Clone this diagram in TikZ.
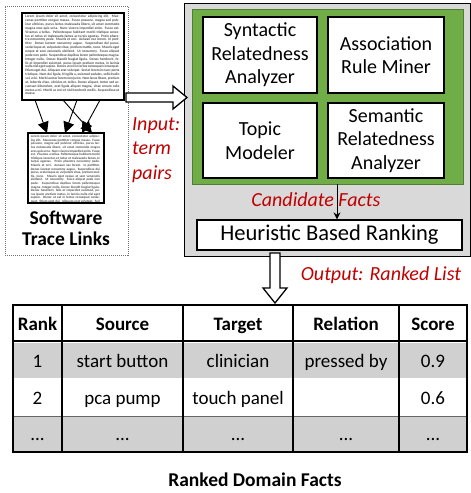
\documentclass[tikz,border=0pt]{standalone}
\usepackage{fontspec}
\setmainfont{Carlito}
\usetikzlibrary{arrows.meta,calc}
\definecolor{myred}{HTML}{C00000}
\definecolor{mygreen}{HTML}{70AD47}
\definecolor{mygreendark}{HTML}{507E32}
\definecolor{mygray}{HTML}{D9D9D9}
\definecolor{tablegray}{HTML}{D0D0D0}
\newcommand{\loremone}{Lorem ipsum dolor sit amet, consectetur adipiscing elit. Maecenas porttitor congue massa. Fusce posuere, magna sed pulvinar ultricies, purus lectus malesuada libero, sit amet commodo magna eros quis urna. Nunc viverra imperdiet enim. Fusce est. Vivamus a tellus. Pellentesque habitant morbi tristique senectus et netus et malesuada fames ac turpis egestas. Proin pharetra nonummy pede. Mauris et orci. Aenean nec lorem. In porttitor. Donec laoreet nonummy augue. Suspendisse dui purus, scelerisque at, vulputate vitae, pretium mattis, nunc. Mauris eget neque at sem venenatis eleifend. Ut nonummy.}
\newcommand{\loremtwo}{Fusce aliquet pede non pede. Suspendisse dapibus lorem pellentesque magna. Integer nulla. Donec blandit feugiat ligula. Donec hendrerit, felis et imperdiet euismod, purus ipsum pretium metus, in lacinia nulla nisl eget sapien. Donec ut est in lectus consequat consequat. Etiam eget dui. Aliquam erat volutpat. Sed at lorem in nunc porta tristique.}
\newcommand{\loremthree}{Nam dui ligula, fringilla a, euismod sodales, sollicitudin vel, wisi. Morbi auctor lorem non justo. Nam lacus libero, pretium at, lobortis vitae, ultricies et, tellus. Donec aliquet, tortor sed accumsan bibendum, erat ligula aliquet magna, vitae ornare odio metus a mi. Morbi ac orci et nisl hendrerit mollis. Suspendisse ut massa.}
\tikzset{
  x=1pt, y=-1pt,
  docbox/.style={draw=black, line width=1.6pt, fill=white, inner sep=0pt},
  doctext/.style={font=\fontsize{3.5}{3.85}\selectfont\bfseries, text=black!70, align=justify, inner sep=0pt, anchor=north west},
  docarrow/.style={line width=0.9pt, -{Triangle[width=11pt,length=11pt]}},
  procbox/.style={draw=black, line width=1.2pt, fill=white, align=center, inner sep=0pt, font=\fontsize{20}{23.5}\selectfont},
  redlabel/.style={text=myred, font=\fontsize{20}{24.5}\selectfont\itshape, inner sep=0pt},
  blockarrow/.style={draw=black, line width=1.3pt, fill=white, line join=miter},
  cell/.style={font=\fontsize{19}{22}\selectfont, inner sep=0pt, text height=9.5pt, text depth=0pt, anchor=base},
  headcell/.style={font=\fontsize{19}{22}\selectfont\bfseries, inner sep=0pt, anchor=base},
  boldtitle/.style={font=\fontsize{19.5}{21}\selectfont\bfseries, align=center, inner sep=0pt},
}
\begin{document}
\begin{tikzpicture}
\useasboundingbox (0,0) rectangle (471,493);

% ---------- left: software trace links ----------
\node[draw=black!55, densely dotted, line width=1pt, minimum width=123, minimum height=249, inner sep=0pt] (stl) at (66.5,130.5) {};
\node[docbox, minimum width=102, minimum height=87] (doc1) at (73,56.5) {};
\begin{scope}
  \clip ($(doc1.north west)+(2.5,2.5)$) rectangle ($(doc1.south east)+(-2.5,-2.5)$);
  \node[doctext, text width=94pt] (doc1text) at ($(doc1.north west)+(4,3)$) {\loremone{} \loremtwo{} \loremthree};
\end{scope}
\node[docbox, minimum width=76, minimum height=70] (doc2) at (66,168) {};
\begin{scope}
  \clip ($(doc2.north west)+(2.5,2.5)$) rectangle ($(doc2.south east)+(-2.5,-2.5)$);
  \node[doctext, text width=69pt, font=\fontsize{3.3}{3.6}\selectfont\bfseries] (doc2text) at ($(doc2.north west)+(3.5,3)$) {\loremone{} \loremtwo{} Cras nec ante. Pellentesque a nulla. Cum sociis natoque penatibus.};
\end{scope}
\coordinate (s1) at (35,100);
\coordinate (s2) at (77,100);
\coordinate (s3) at (63,100);
\coordinate (s4) at (100,100);
\coordinate (t1) at (47,133);
\coordinate (t2) at (65,133);
\coordinate (t3) at (92,133);
\coordinate (t4) at (82,133);
\draw[docarrow] (s1) -- (t1);
\draw[docarrow] (s2) -- (t2);
\draw[docarrow] (s3) -- (t3);
\draw[docarrow] (s4) -- (t4);
\node[boldtitle] (stltext) at (66,228) {Software\\Trace Links};

% ---------- right: processing ----------
\node[draw=black, line width=0.8pt, fill=mygray, minimum width=286, minimum height=253, inner sep=0pt] (proc) at (327,129.5) {};
\node[draw=mygreendark, line width=1pt, fill=mygreen, minimum width=271, minimum height=175, inner sep=0pt] (green) at (327.5,96.5) {};
\node[procbox, minimum width=114, minimum height=76] (syn) at (260,55) {Syntactic\\Relatedness\\Analyzer};
\node[procbox, minimum width=116, minimum height=76] (arm) at (386,55) {Association\\Rule Miner};
\node[procbox, minimum width=114, minimum height=75] (topic) at (260,140.5) {Topic\\Modeler};
\node[procbox, minimum width=116, minimum height=75] (sem) at (386,140.5) {Semantic\\Relatedness\\Analyzer};
\node[procbox, minimum width=265, minimum height=30, font=\fontsize{22.5}{26}\selectfont] (heur) at (329.5,235) {Heuristic Based Ranking};
\draw[line width=1pt, -{Stealth[width=7pt,length=7pt]}] (337,184) -- (heur.north -| 337,0);
\node[redlabel] (cand) at (316,200) {Candidate Facts};

% input arrow
\draw[blockarrow] (126,93) -- (173,93) -- (173,86) -- (187,97.5) -- (173,109) -- (173,102) -- (126,102) -- cycle;
\node[redlabel, align=left, anchor=north west] (inp) at (132,117) {Input:\\term\\pairs};

% output arrow
\draw[blockarrow] (270,253) -- (280,253) -- (280,288) -- (287,288) -- (275,303) -- (263,288) -- (270,288) -- cycle;
\node[redlabel] (outp) at (381,275) {Output: Ranked List};

% ---------- table ----------
\fill[white] (13,305) rectangle (467,452);
\fill[tablegray] (13,343) rectangle (467,378);
\fill[tablegray] (13,416) rectangle (467,452);
\draw[line width=1.3pt] (13,341) -- (467,341);
\draw[line width=0.6pt, black!60] (13,416) -- (467,416);
\draw[line width=1.3pt] (62,305) -- (62,452);
\draw[line width=1.3pt] (183,305) -- (183,452);
\draw[line width=1.3pt] (293,305) -- (293,452);
\draw[line width=1.3pt] (399,305) -- (399,452);
\draw[line width=1.6pt] (13,305) rectangle (467,452);

\node[headcell] (h1) at (37.5,330.5) {Rank};
\node[headcell] (h2) at (122.5,330.5) {Source};
\node[headcell] (h3) at (238,330.5) {Target};
\node[headcell] (h4) at (346,330.5) {Relation};
\node[headcell] (h5) at (433,330.5) {Score};

\node[cell] (a1) at (37.5,367.5) {1};
\node[cell] (a2) at (122.5,367.5) {start button};
\node[cell] (a3) at (238,367.5) {clinician};
\node[cell] (a4) at (346,367.5) {pressed by};
\node[cell] (a5) at (433,367.5) {0.9};

\node[cell] (b1) at (37.5,404) {2};
\node[cell] (b2) at (122.5,404) {pca pump};
\node[cell] (b3) at (238,404) {touch panel};
\node[cell] (b5) at (433,404) {0.6};

\node[cell] (c1) at (37.5,440) {...};
\node[cell] (c2) at (122.5,440) {...};
\node[cell] (c3) at (238,440) {...};
\node[cell] (c4) at (346,440) {...};
\node[cell] (c5) at (433,440) {...};

\node[boldtitle] (rdf) at (255,480) {Ranked Domain Facts};
\end{tikzpicture}
\end{document}
